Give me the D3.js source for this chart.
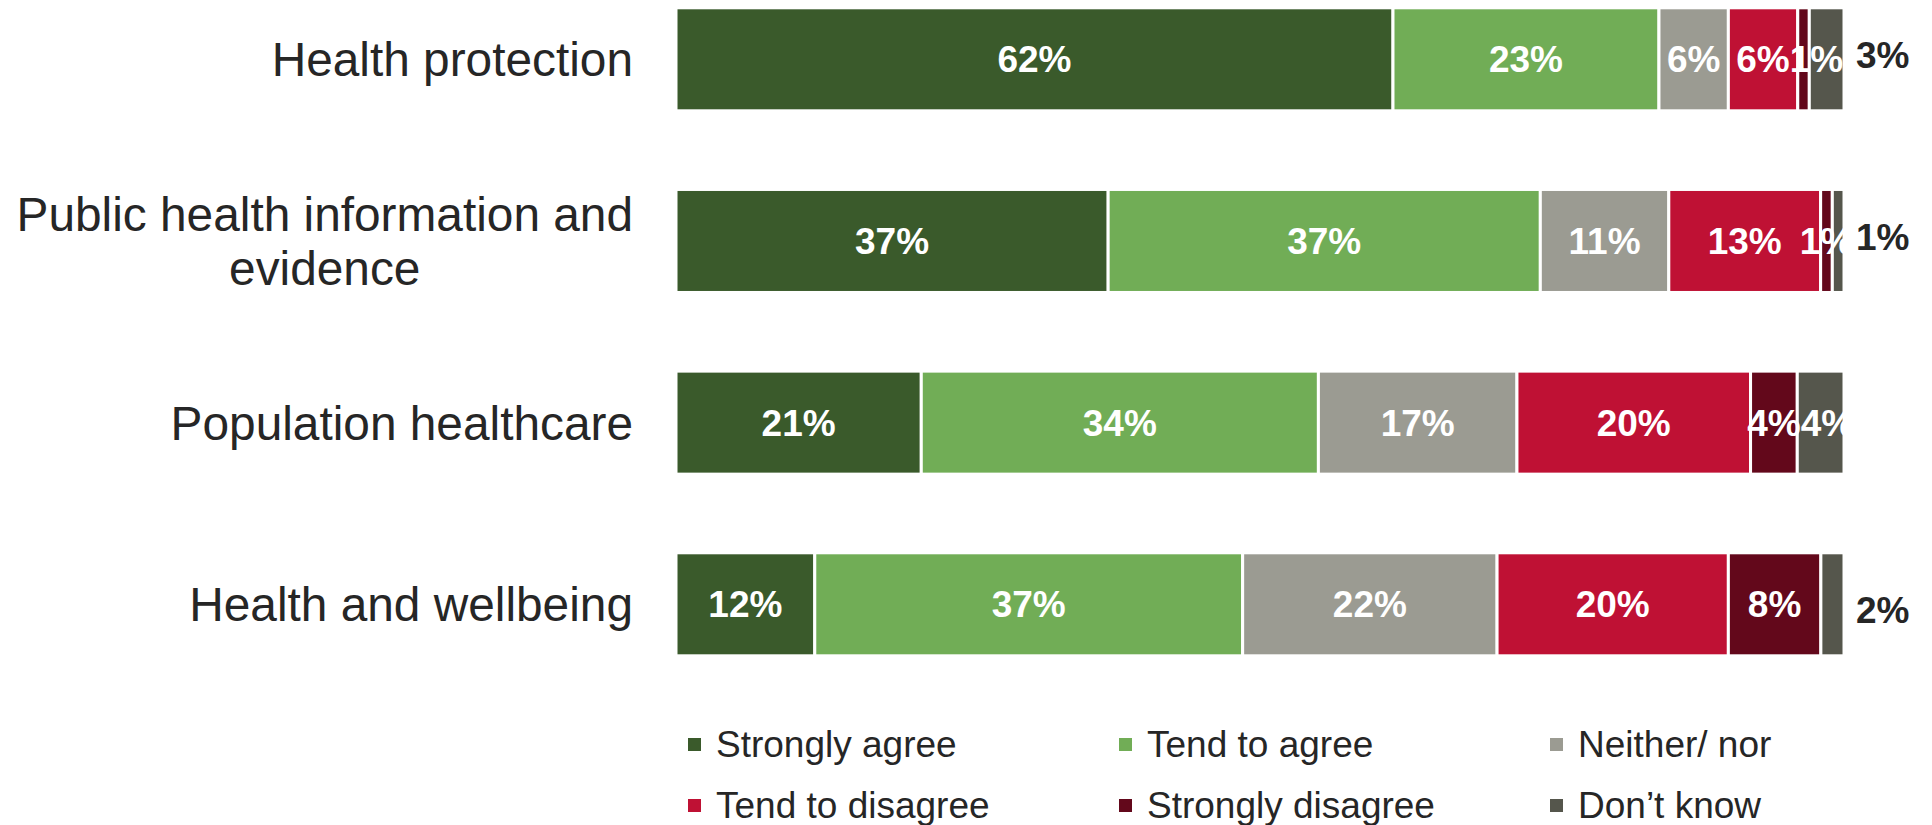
<!DOCTYPE html>
<html>
<head>
<meta charset="utf-8">
<script src="https://cdn.jsdelivr.net/npm/d3@7"></script>
<style>
  html, body { margin: 0; padding: 0; background: #fff; }
  svg { display: block; font-family: Arial, "Liberation Sans", sans-serif; }
</style>
</head>
<body>
<svg id="chart" width="1932" height="825"></svg>
<script>
// Survey areas (one bar each)
const categories = [
  "Health protection",
  "Public health information and evidence",
  "Population healthcare",
  "Health and wellbeing"
];

// Response options, in stacking order
const responses = [
  "Strongly agree",
  "Tend to agree",
  "Neither/ nor",
  "Tend to disagree",
  "Strongly disagree",
  "Don’t know"
];

// Percentages per response, one value per category
const stronglyAgree    = [62, 37, 21, 12];
const tendToAgree      = [23, 37, 34, 37];
const neitherNor       = [6, 11, 17, 22];
const tendToDisagree   = [6, 13, 20, 20];
const stronglyDisagree = [1, 1, 4, 8];
const dontKnow         = [3, 1, 4, 2];

const responseColors = ["#3a5a2b", "#71ad56", "#9b9b92", "#bf1134", "#63081b", "#55564c"];

// Build rows for d3.stack
const seriesValues = [stronglyAgree, tendToAgree, neitherNor, tendToDisagree, stronglyDisagree, dontKnow];
const rows = categories.map((c, i) => {
  const r = { category: c };
  responses.forEach((k, j) => { r[k] = seriesValues[j][i]; });
  return r;
});

const stacked = d3.stack()
  .keys(responses)
  .offset(d3.stackOffsetExpand)(rows);

const svg = d3.select("#chart");
const textColor = "#262626";

const x = d3.scaleLinear().domain([0, 1]).range([676, 1844]);
const y = d3.scaleBand().domain(categories).range([7.8, 655.8]).paddingInner(0.433).paddingOuter(0);
const color = d3.scaleOrdinal().domain(responses).range(responseColors);

// Bars
const layers = svg.append("g").selectAll("g")
  .data(stacked)
  .join("g")
  .attr("fill", d => color(d.key));

layers.selectAll("rect")
  .data(d => d.map(s => ({ key: d.key, s })))
  .join("rect")
  .attr("x", d => x(d.s[0]))
  .attr("y", d => y(d.s.data.category))
  .attr("width", d => x(d.s[1]) - x(d.s[0]))
  .attr("height", y.bandwidth())
  .attr("stroke", "#ffffff")
  .attr("stroke-width", 3);

// Value labels
const outsideNudge = [-4, -4, 0, 6];
const labelData = [];
stacked.forEach(layer => {
  layer.forEach((s, i) => {
    const v = s.data[layer.key];
    const outside = layer.key === "Don’t know" && v < 4;
    labelData.push({ key: layer.key, s, v, i, outside });
  });
});

const valueLabels = svg.append("g").selectAll("text")
  .data(labelData)
  .join("text")
  .attr("x", d => d.outside ? x(d.s[1]) + 12 : (x(d.s[0]) + x(d.s[1])) / 2)
  .attr("y", d => y(d.s.data.category) + y.bandwidth() / 2 + 13 + (d.outside ? outsideNudge[d.i] : 0))
  .attr("text-anchor", d => d.outside ? "start" : "middle")
  .attr("font-size", 37)
  .attr("font-weight", "bold")
  .attr("fill", d => d.outside ? textColor : "#ffffff")
  .text(d => d.v + "%");

// Push crowded inside labels rightwards so they follow the previous label
categories.forEach((c, i) => {
  let prevEnd = -Infinity;
  valueLabels.filter(d => d.i === i && !d.outside).each(function (d) {
    const sel = d3.select(this);
    const w = this.getComputedTextLength();
    let cx = +sel.attr("x");
    if (cx - w / 2 < prevEnd) {
      cx = prevEnd + w / 2;
      sel.attr("x", cx);
    }
    prevEnd = cx + w / 2;
  });
});

// Category labels, wrapped to fit the left margin
const labelRight = 633;
const maxLabelWidth = 630;
const catFont = 47.8;
const lineGap = 54;

categories.forEach(c => {
  const g = svg.append("g");
  const probe = g.append("text").attr("font-size", catFont);
  const words = c.split(" ");
  const lines = [];
  let line = [];
  words.forEach(w => {
    const trial = line.concat(w).join(" ");
    probe.text(trial);
    if (probe.node().getComputedTextLength() > maxLabelWidth && line.length) {
      lines.push(line.join(" "));
      line = [w];
    } else {
      line.push(w);
    }
  });
  lines.push(line.join(" "));
  probe.remove();

  const cy = y(c) + y.bandwidth() / 2;
  const firstBase = cy + 17 - (lines.length - 1) * lineGap / 2;

  if (lines.length === 1) {
    g.append("text")
      .attr("x", labelRight)
      .attr("y", firstBase)
      .attr("text-anchor", "end")
      .attr("font-size", catFont)
      .attr("fill", textColor)
      .text(lines[0]);
  } else {
    // multi-line labels: lines centred on each other, block right-aligned
    const t = g.append("text")
      .attr("font-size", catFont)
      .attr("fill", textColor)
      .attr("text-anchor", "middle");
    const spans = lines.map((l, k) => t.append("tspan").attr("y", firstBase + k * lineGap).text(l));
    const widest = d3.max(spans, s => s.node().getComputedTextLength());
    spans.forEach(s => s.attr("x", labelRight - widest / 2));
  }
});

// Legend: two rows of three
const legend = svg.append("g");
const legendColX = [688, 1119, 1550];
const legendRowY = [745, 806];
const legendItems = legend.selectAll("g")
  .data(responses)
  .join("g")
  .attr("transform", (d, i) => `translate(${legendColX[i % 3]},${legendRowY[Math.floor(i / 3)]})`);

legendItems.append("rect")
  .attr("x", 0)
  .attr("y", -7)
  .attr("width", 13)
  .attr("height", 13)
  .attr("fill", d => color(d));

legendItems.append("text")
  .attr("x", 28)
  .attr("y", 12)
  .attr("font-size", 37)
  .attr("fill", textColor)
  .text(d => d);
</script>
</body>
</html>
